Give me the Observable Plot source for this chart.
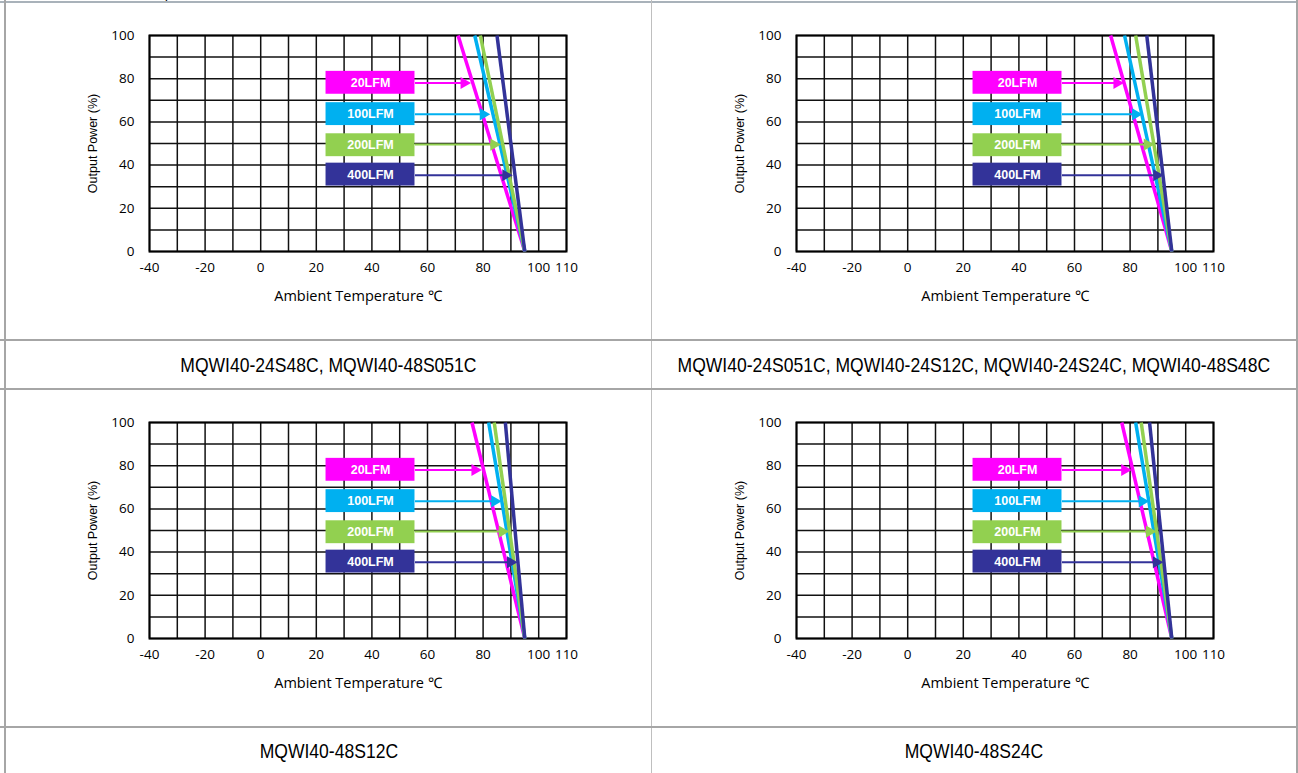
<!DOCTYPE html>
<html><head><meta charset="utf-8">
<script src="https://cdn.jsdelivr.net/npm/d3@7"></script>
<script src="https://cdn.jsdelivr.net/npm/@observablehq/plot@0.6"></script>
<style>
body{margin:0;width:1298px;height:773px;overflow:hidden;position:relative;background:#fff;font-family:"Liberation Sans",Arial,sans-serif}
.ln{position:absolute;background:#a6a6a6}
.cap{position:absolute;display:flex;align-items:center;justify-content:center;color:#000;white-space:nowrap}
.cap span{display:inline-block;font-family:"Liberation Sans Narrow","Arial Narrow",sans-serif;font-size:21px}
.chart{position:absolute}
</style></head><body>
<div style="position:absolute;left:115px;top:-13.5px;font-size:14px;line-height:16px;color:#000">Derating</div>
<div class="ln" style="left:0;top:1px;width:1298px;height:2px;background:#a9b2ba"></div>
<div class="ln" style="left:4px;top:0;width:2px;height:773px"></div>
<div class="ln" style="left:1296px;top:0;width:2px;height:773px"></div>
<div class="ln" style="left:651px;top:0;width:1px;height:773px;background:#bfbfbf"></div>
<div class="ln" style="left:0;top:339px;width:1298px;height:2px"></div>
<div class="ln" style="left:0;top:388px;width:1298px;height:2px"></div>
<div class="ln" style="left:0;top:726px;width:1298px;height:2px"></div>
<div id="c0" class="chart" style="left:6px;top:3px"></div>
<div id="c1" class="chart" style="left:653px;top:3px"></div>
<div id="c2" class="chart" style="left:6px;top:390px"></div>
<div id="c3" class="chart" style="left:653px;top:390px"></div>
<div id="t0" class="cap" style="left:6px;top:341px;width:645px;height:47px"></div>
<div id="t1" class="cap" style="left:652px;top:341px;width:644px;height:47px"></div>
<div id="t2" class="cap" style="left:6px;top:728px;width:645px;height:45px"></div>
<div id="t3" class="cap" style="left:652px;top:728px;width:644px;height:45px"></div>
<script>
// ---- data ----
const xTicks = [-40, -20, 0, 20, 40, 60, 80, 100, 110];
const yTicks = [0, 20, 40, 60, 80, 100];
const gridTemps = [-40, -30, -20, -10, 0, 10, 20, 30, 40, 50, 60, 70, 80, 90, 100, 110];
const gridPowers = [0, 10, 20, 30, 40, 50, 60, 70, 80, 90, 100];
const series = ["20LFM", "100LFM", "200LFM", "400LFM"];
const colors = ["#ff00ff", "#00b0f0", "#92d050", "#333399"];
const models = [
  "MQWI40-24S48C, MQWI40-48S051C",
  "MQWI40-24S051C, MQWI40-24S12C, MQWI40-24S24C, MQWI40-48S48C",
  "MQWI40-48S12C",
  "MQWI40-48S24C"
];
// temperature where each curve is at 100% output
const fullPowerTemp0 = [71, 77, 79, 85];
const fullPowerTemp1 = [73, 78, 82, 86];
const fullPowerTemp2 = [76, 82, 84, 88];
const fullPowerTemp3 = [77, 82, 84, 87];
// temperature where each curve reaches 0% output
const zeroPowerTemp = [95, 95, 95, 95];
// label arrows
const arrowPower = [78, 63.5, 49.5, 35.3];
const arrowTip0 = [74.6, 81.5, 85.3, 89.6];
const arrowTip1 = [76.7, 83.4, 87.6, 91.0];
const arrowTip2 = [78.5, 85.6, 88.3, 91.3];
const arrowTip3 = [79.5, 85.8, 88.4, 90.9];
// label boxes (data units)
const boxTemps = [23.5, 55.5];
const boxPower = [78.1, 63.6, 49.2, 35.6];
const boxHalf = 5.3;

const xLabel = "Ambient Temperature ℃";
const yLabel = "Output Power (%)";

function chart(starts, tips) {
  const lines = series.map((s, i) => ({s, t0: starts[i], t1: zeroPowerTemp[i]}));
  const arrows = series.map((s, i) => ({s, y: arrowPower[i], tip: tips[i]}));
  const boxes = series.map((s, i) => ({s, y: boxPower[i]}));
  return Plot.plot({
    width: 645, height: 336,
    marginLeft: 143, marginRight: 85, marginTop: 32, marginBottom: 88,
    x: {domain: [-40, 110], ticks: xTicks, tickSize: 0, tickPadding: 11, label: null, tickFormat: d => String(d)},
    y: {domain: [0, 100], ticks: yTicks, tickSize: 0, tickPadding: 15, label: null, tickFormat: d => String(d)},
    color: {domain: series, range: colors},
    style: {fontFamily: "'Open Sans', sans-serif", fontSize: "13.5px", color: "#000", background: "transparent", overflow: "visible"},
    marks: [
      Plot.ruleX(gridTemps, {stroke: "#111", strokeWidth: 1.5}),
      Plot.ruleY(gridPowers, {stroke: "#111", strokeWidth: 1.5}),
      Plot.frame({stroke: "#000", strokeWidth: 2}),
      Plot.link(lines, {x1: "t0", y1: () => 100, x2: "t1", y2: () => 0, stroke: "s", strokeWidth: 3.5}),
      Plot.rect(boxes, {x1: () => boxTemps[0], x2: () => boxTemps[1], y1: d => d.y - boxHalf, y2: d => d.y + boxHalf, fill: "s"}),
      Plot.text(boxes, {x: () => (boxTemps[0] + boxTemps[1]) / 2, y: "y", text: "s", fill: "white", fontWeight: "bold", fontSize: 12.5, fontFamily: "'Liberation Sans', Arial, sans-serif"}),
      Plot.link(arrows, {x1: () => boxTemps[1], x2: "tip", y1: "y", y2: "y", stroke: "s", strokeWidth: 2}),
      Plot.dot(arrows, {x: "tip", y: "y", symbol: "triangle", rotate: 90, r: 4.5, fill: "s", stroke: "none", dx: -4}),
      Plot.text([xLabel], {frameAnchor: "bottom", textAnchor: "middle", dy: 49, text: d => d, fontSize: 14.5, fill: "#000"}),
      Plot.text([yLabel], {frameAnchor: "left", textAnchor: "middle", dx: -57, rotate: -90, text: d => d, fontSize: 12.5, fill: "#000", fontFamily: "'Liberation Sans', Arial, sans-serif"})
    ]
  });
}

document.getElementById("c0").appendChild(chart(fullPowerTemp0, arrowTip0));
document.getElementById("c1").appendChild(chart(fullPowerTemp1, arrowTip1));
document.getElementById("c2").appendChild(chart(fullPowerTemp2, arrowTip2));
document.getElementById("c3").appendChild(chart(fullPowerTemp3, arrowTip3));

// captions; fall back to horizontally compressed regular font if no narrow face is present
function hasNarrow() {
  const a = document.createElement("span");
  a.style.cssText = "position:absolute;visibility:hidden;font-size:40px;font-family:'Liberation Sans Narrow',monospace";
  a.textContent = "MQWI40-24S48C";
  const b = a.cloneNode(true);
  b.style.fontFamily = "monospace";
  document.body.appendChild(a); document.body.appendChild(b);
  const r = a.getBoundingClientRect().width !== b.getBoundingClientRect().width;
  a.remove(); b.remove();
  return r;
}
const narrow = hasNarrow();
models.forEach((m, i) => {
  const sp = document.createElement("span");
  sp.textContent = m;
  if (!narrow) {
    sp.style.fontFamily = "'Liberation Sans', Arial, sans-serif";
    sp.style.transform = "scaleX(0.835)";
  }
  document.getElementById("t" + i).appendChild(sp);
});
</script>
</body></html>
